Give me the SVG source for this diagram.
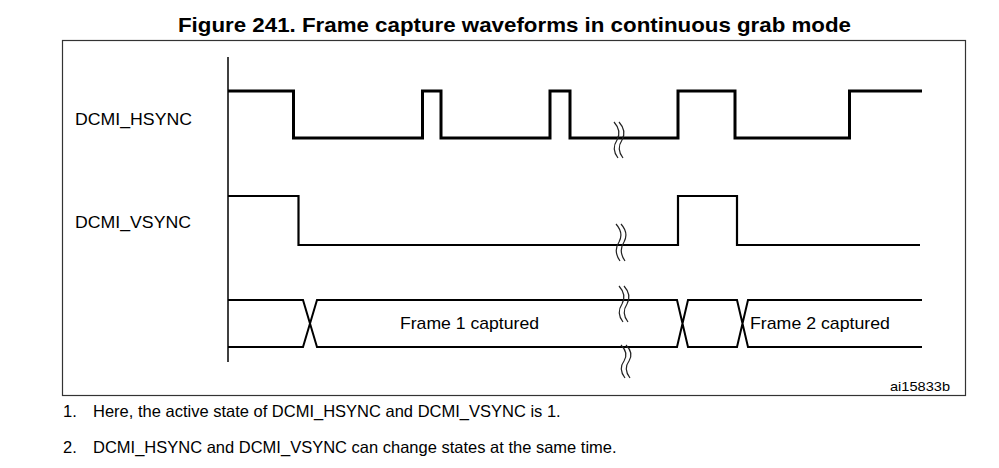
<svg xmlns="http://www.w3.org/2000/svg" width="999" height="468" viewBox="0 0 999 468">
<style>
text{font-family:"Liberation Sans",Arial,sans-serif;fill:#000}
.title{font-size:21px;font-weight:bold}
.lbl{font-size:16.5px}
.note{font-size:16.5px}
.wave{fill:none;stroke:#000;stroke-linejoin:miter;stroke-linecap:butt}
.h{stroke-width:3}
.v{stroke-width:2.2}
.bus{stroke-width:2}
.brk{fill:none;stroke:#222;stroke-width:1.2}
</style>
<rect width="999" height="468" fill="#fff"/>
<text class="title" x="178" y="32" textLength="673" lengthAdjust="spacingAndGlyphs">Figure 241. Frame capture waveforms in continuous grab mode</text>
<rect id="frame" x="62.5" y="40.5" width="903" height="355" fill="none" stroke="#333" stroke-width="1.2"/>
<g id="axis"><line x1="228" y1="57" x2="228" y2="362" stroke="#000" stroke-width="1.5"/></g>
<g id="hsync">
<text class="lbl" x="75" y="125" textLength="117" lengthAdjust="spacingAndGlyphs">DCMI_HSYNC</text>
<path class="wave h" d="M228,91 H293.5 V138 H422.5 V91 H441 V138 H550 V91 H570 V138 H678 V91 H735 V138 H849.5 V91 H922"/>
</g>
<g id="vsync">
<text class="lbl" x="75" y="228" textLength="116" lengthAdjust="spacingAndGlyphs">DCMI_VSYNC</text>
<path class="wave v" d="M228,196 H298.5 V245 H678 V196 H737 V245 H920"/>
</g>
<g id="data">
<path class="wave bus" d="M228,300 H303 L317,347 H677 L688,300 H737 L748,347 H922 M228,347 H303 L317,300 H677 L688,347 H737 L748,300 H922"/>
<text x="400" y="329" textLength="139" lengthAdjust="spacingAndGlyphs" style="font-size:17px">Frame 1 captured</text>
<text x="750" y="329" textLength="140" lengthAdjust="spacingAndGlyphs" style="font-size:17px">Frame 2 captured</text>
</g>
<g id="connectors">
<g id="break-hsync"><path class="brk" d="M614,122 Q622,131 617,140 Q611,149 618,158 M619,122 Q627,131 622,140 Q616,149 623,158"/></g>
<g id="break-vsync"><path class="brk" d="M616,224 Q624,233 619,242 Q613,251 620,261 M621,224 Q629,233 624,242 Q618,251 625,261"/></g>
<g id="break-data-top"><path class="brk" d="M619,286 Q627,295 622,304 Q616,313 623,322 M624,286 Q632,295 627,304 Q621,313 628,322"/></g>
<g id="break-data-bot"><path class="brk" d="M621,345 Q629,353 624,361 Q618,369 625,378 M626,345 Q634,353 629,361 Q623,369 630,378"/></g>
</g>
<text x="890" y="391" style="font-size:13px" textLength="60" lengthAdjust="spacingAndGlyphs">ai15833b</text>
<g id="notes">
<text class="note" x="63" y="417">1.</text>
<text class="note" x="93" y="417">Here, the active state of DCMI_HSYNC and DCMI_VSYNC is 1.</text>
<text class="note" x="63" y="453">2.</text>
<text class="note" x="93" y="453">DCMI_HSYNC and DCMI_VSYNC can change states at the same time.</text>
</g>
</svg>
